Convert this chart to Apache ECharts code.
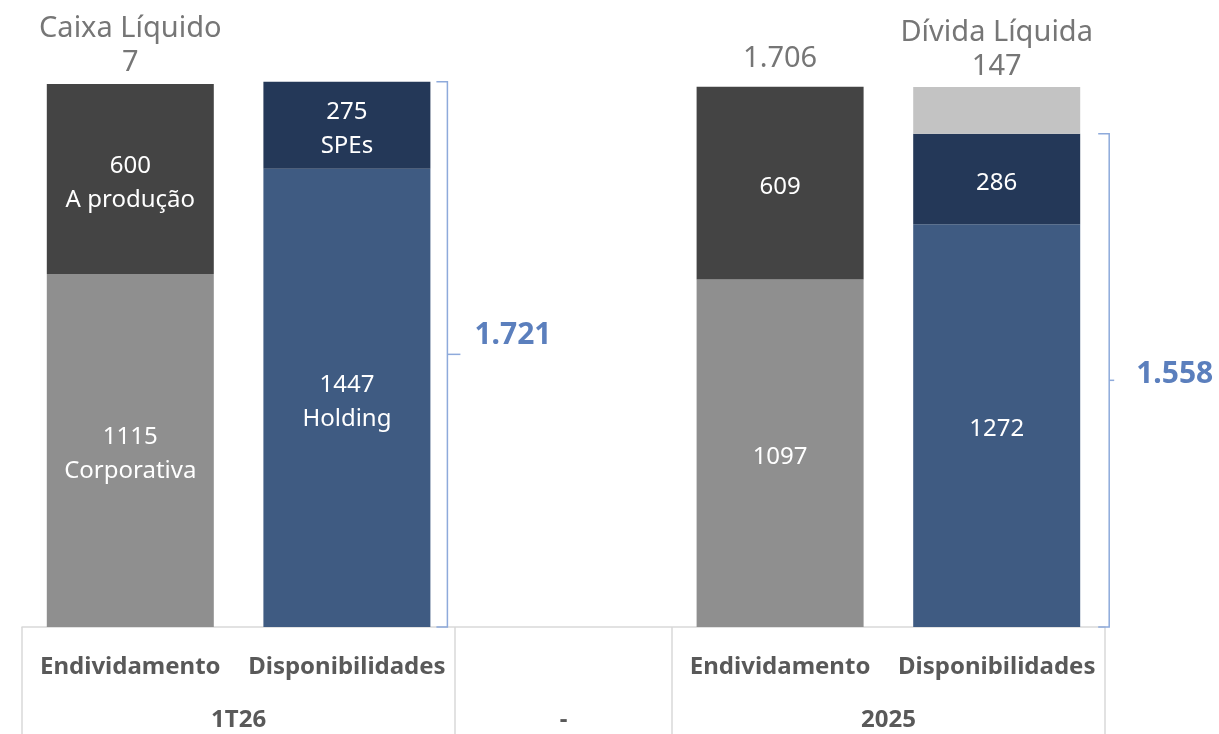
<!DOCTYPE html>
<html>
<head>
<meta charset="utf-8">
<script src="https://cdn.jsdelivr.net/npm/echarts@6/dist/echarts.min.js"></script>
<style>
  html, body { margin: 0; padding: 0; background: #fff; }
  #chart { width: 1219px; height: 734px; }
</style>
</head>
<body>
<div id="chart"></div>
<script>
// categorias (slot do meio vazio, grupo "-")
const categories = ['Endividamento', 'Disponibilidades', '', 'Endividamento', 'Disponibilidades'];
const groupLabels = ['1T26', '-', '2025'];
const groupCenters = [1, 2.5, 4];
const groupEdges = [0, 2, 3, 5];

// valores
const corporativa = [1115, '-', '-', 1097, '-'];
const producao = [600, '-', '-', 609, '-'];
const holding = ['-', 1447, '-', '-', 1272];
const spes = ['-', 275, '-', '-', 286];
const dividaLiquida = ['-', '-', '-', '-', 147];

// nomes dentro das barras
const corporativaNames = ['Corporativa', '', '', '', ''];
const producaoNames = ['A produção', '', '', '', ''];
const holdingNames = ['', 'Holding', '', '', ''];
const spesNames = ['', 'SPEs', '', '', ''];

// textos acima das barras
const topNotes = ['Caixa Líquido\n7', '', '', '1.706', 'Dívida Líquida\n147'];
const topAnchor = [0, '-', '-', 0, 0];

// chaves (disponibilidades)
const bracketIndex = [1, 4];
const bracketLabels = ['1.721', '1.558'];

const FONT = '"Noto Sans", sans-serif';

const chart = echarts.init(document.getElementById('chart'));

function insideLabel(names) {
    return {
        show: true,
        position: 'inside',
        offset: [0, 4],
        color: '#ffffff',
        fontSize: 24,
        lineHeight: 34,
        fontFamily: FONT,
        formatter: (p) => names[p.dataIndex] ? p.value + '\n' + names[p.dataIndex] : String(p.value)
    };
}

function barSeries(name, data, color, names) {
    return {
        name: name,
        type: 'bar',
        stack: 'total',
        barWidth: 167,
        data: data,
        itemStyle: { color: color },
        label: names ? insideLabel(names) : { show: false },
        emphasis: { disabled: true },
        silent: true
    };
}

// distancia do texto acima de cada barra
const topNoteDistance = [4, 0, 0, 11, 3];

// estilo das chaves: distancia da barra, tamanho do traco, deslocamento do texto
const bracketGap = [17, 29];
const bracketTick = [13, 5];
const bracketTextDy = [-19, -6];

const bracketData = bracketIndex.map((i, k) => [i, 0, holding[i] + spes[i], k]);

const options = {
    animation: false,
    grid: { left: 22, right: 114, top: 0, bottom: 107 },
    xAxis: [
        {
            type: 'category',
            data: categories,
            axisLine: { show: false },
            axisTick: { show: false },
            axisLabel: {
                interval: 0,
                margin: 28,
                color: '#595959',
                fontSize: 24,
                fontWeight: 'bold',
                fontFamily: FONT
            }
        },
        {
            type: 'value',
            min: 0,
            max: 5,
            position: 'bottom',
            splitLine: { show: false },
            axisLine: { show: true, lineStyle: { color: '#d9d9d9', width: 1.5 } },
            axisTick: {
                show: true,
                customValues: groupEdges,
                length: 107,
                lineStyle: { color: '#d9d9d9', width: 1.5 }
            },
            axisLabel: {
                customValues: groupCenters,
                margin: 81,
                color: '#595959',
                fontSize: 24,
                fontWeight: 'bold',
                fontFamily: FONT,
                formatter: (v) => {
                    const idx = groupCenters.indexOf(v);
                    return idx >= 0 ? groupLabels[idx] : '';
                }
            }
        }
    ],
    yAxis: {
        type: 'value',
        min: 0,
        max: 1980,
        show: false
    },
    series: [
        barSeries('Corporativa', corporativa, '#8f8f8f', corporativaNames),
        barSeries('A produção', producao, '#444444', producaoNames),
        barSeries('Holding', holding, '#3f5b82', holdingNames),
        barSeries('SPEs', spes, '#243858', spesNames),
        barSeries('Dívida Líquida', dividaLiquida, '#c3c3c3', null),
        {
            name: 'topo',
            type: 'bar',
            stack: 'total',
            barWidth: 167,
            data: topAnchor.map((v, i) => ({ value: v, label: { distance: topNoteDistance[i] } })),
            itemStyle: { color: 'rgba(0,0,0,0)' },
            silent: true,
            label: {
                show: true,
                position: 'top',
                color: '#767676',
                fontSize: 29,
                lineHeight: 34,
                fontFamily: FONT,
                formatter: (p) => topNotes[p.dataIndex]
            }
        },
        {
            name: 'chaves',
            type: 'custom',
            silent: true,
            data: bracketData,
            renderItem: (params, api) => {
                const i = api.value(0);
                const k = api.value(3);
                const base = api.coord([i, api.value(1)]);
                const top = api.coord([i, api.value(2)]);
                const x = base[0] + 167 / 2 + bracketGap[k];
                const mid = (base[1] + top[1]) / 2;
                const stroke = { stroke: '#8eaadb', lineWidth: 1.5, fill: null };
                return {
                    type: 'group',
                    children: [
                        {
                            type: 'polyline',
                            shape: { points: [[x - 11, top[1]], [x, top[1]], [x, base[1]], [x - 11, base[1]]] },
                            style: stroke
                        },
                        {
                            type: 'line',
                            shape: { x1: x, y1: mid, x2: x + bracketTick[k], y2: mid },
                            style: stroke
                        },
                        {
                            type: 'text',
                            x: x + 27,
                            y: mid + bracketTextDy[k],
                            style: {
                                text: bracketLabels[k],
                                fill: '#5b7fbd',
                                fontSize: 30,
                                fontWeight: 'bold',
                                fontFamily: FONT,
                                verticalAlign: 'middle'
                            }
                        }
                    ]
                };
            }
        }
    ]
};

chart.setOption(options);
</script>
</body>
</html>
